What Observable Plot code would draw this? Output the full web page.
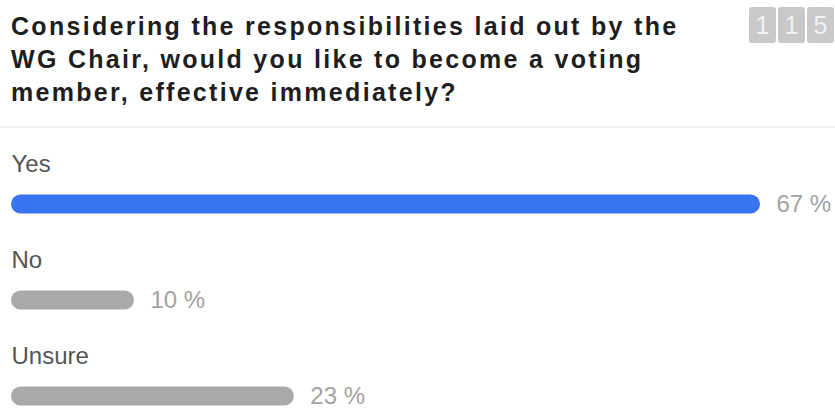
<!DOCTYPE html>
<html><head><meta charset="utf-8">
<script src="https://cdn.jsdelivr.net/npm/d3@7"></script>
<script src="https://cdn.jsdelivr.net/npm/@observablehq/plot@0.6"></script>
<style>
body{margin:0;background:#fff;font-family:"Liberation Sans",Arial,sans-serif;}
#wrap{width:835px;height:410px;position:relative;overflow:hidden}
#head{height:126px;border-bottom:2px solid #eef3f8;position:relative}
#title{position:absolute;left:11px;top:10px;width:740px;white-space:nowrap;font-weight:bold;font-size:25px;letter-spacing:2.3px;line-height:33px;color:#1e1e1e}
#count{position:absolute;left:749px;top:7px;display:flex;gap:2px}
#count span{width:27px;height:36px;background:#c9c9c9;color:#f2f2f2;font-size:25px;line-height:36px;text-align:center;border-radius:3px}
#chart svg{display:block}
</style>
</head><body>
<div id="wrap">
  <div id="head"><div id="title"></div><div id="count"></div></div>
  <div id="chart"></div>
</div>
<script>
const titleLines = ["Considering the responsibilities laid out by the", "WG Chair, would you like to become a voting", "member, effective immediately?"];
const responseCount = "115";
const categories = ["Yes", "No", "Unsure"];
const percents = [67, 10, 23];
const barColors = ["#3874f0", "#aaaaaa", "#aaaaaa"];

document.getElementById("title").innerHTML = titleLines.join("<br>");
const countEl = document.getElementById("count");
for (const ch of responseCount) { const s = document.createElement("span"); s.textContent = ch; countEl.appendChild(s); }

const data = categories.map((c, i) => ({cat: c, pct: percents[i]}));

const chart = Plot.plot({
  width: 835, height: 282, margin: 0,
  style: {fontFamily: "Liberation Sans, Arial, sans-serif", background: "white"},
  // bar track is capped so the longest bar leaves room for its label
  x: {domain: [0, 60.9], range: [11, 760], clamp: true, axis: null},
  y: {domain: categories, range: [27, 317], padding: 0, axis: null},
  color: {domain: categories, range: barColors},
  marks: [
    Plot.barX(data, {x: "pct", y: "cat", fill: "cat", insetTop: 38.5, insetBottom: 38.5, rx: 9.5}),
    Plot.text(data, {x: 0, y: "cat", text: "cat", dy: -40, textAnchor: "start", fontSize: 24, fill: "#555"}),
    Plot.text(data, {x: "pct", y: "cat", text: d => d.pct + " %", dx: 16, textAnchor: "start", fontSize: 24, fill: "#a3a3a3"})
  ]
});
document.getElementById("chart").appendChild(chart);
</script>
</body></html>
